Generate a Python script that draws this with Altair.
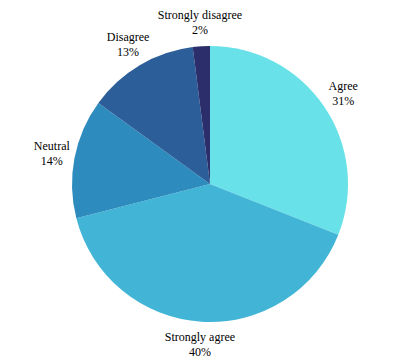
import altair as alt
import pandas as pd

categories = ["Agree", "Strongly agree", "Neutral", "Disagree", "Strongly disagree"]
values = [31, 40, 14, 13, 2]
colors = ["#68e2e8", "#42b5d7", "#2d8bbe", "#2c5e99", "#2b2e6b"]

df = pd.DataFrame({"category": categories, "value": values, "order": list(range(len(categories)))})
df["label"] = df["category"] + "\n" + df["value"].astype(str) + "%"

base = alt.Chart(df).encode(
    theta=alt.Theta("value:Q", stack=True),
    order=alt.Order("order:Q"),
)

pie = base.mark_arc(outerRadius=138).encode(
    color=alt.Color("category:N", scale=alt.Scale(domain=categories, range=colors), legend=None)
)

text = base.mark_text(
    radius=161, lineBreak="\n", font="Liberation Serif", fontSize=12,
    color="#000000", align="center", baseline="middle", lineHeight=15, dy=-8
).encode(text="label:N")

chart = (pie + text).properties(
    width=398, height=344,
    padding={"left": 3, "top": 1, "right": 0, "bottom": 0}
).configure_view(stroke=None)

chart.save("out.html", embed_options={"renderer": "svg", "actions": False})
